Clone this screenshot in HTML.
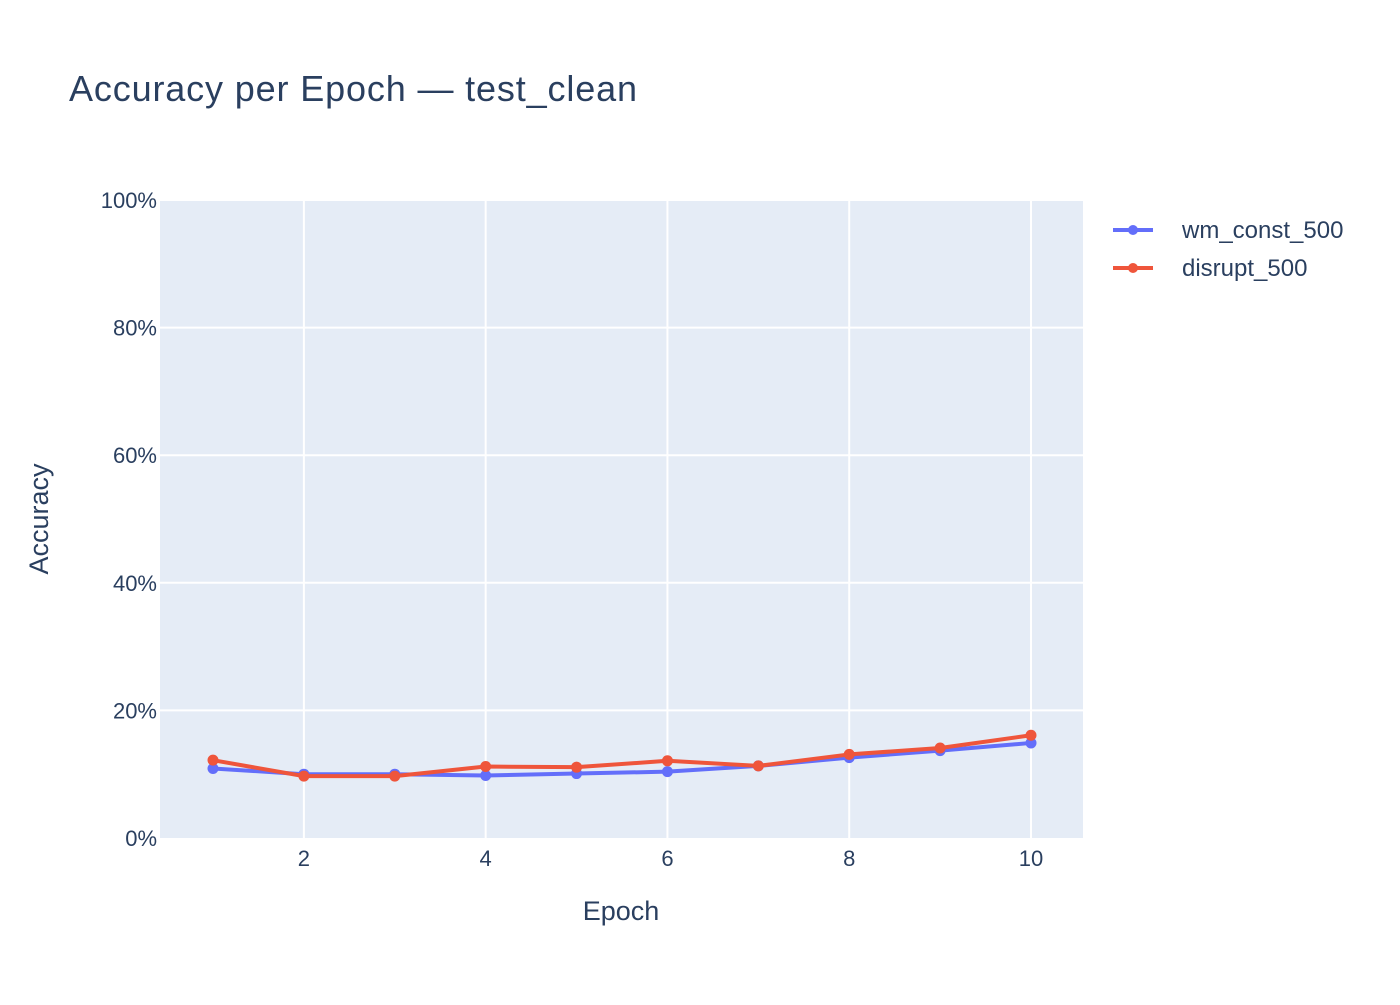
<!DOCTYPE html>
<html><head><meta charset="utf-8"><style>
body{margin:0;background:#fff;font-family:"Liberation Sans",Arial,sans-serif;}
svg text{font-family:"Liberation Sans",Arial,sans-serif;fill:#2a3f5f;}
</style></head><body>
<svg id="chart" width="1400" height="1000">
<text x="69" y="101" font-size="36" textLength="568">Accuracy per Epoch — test_clean</text>
<rect x="160" y="200" width="923" height="638" fill="#e5ecf6"/>
<g id="grid"></g>
<g id="series"></g>
<text x="621" y="920" font-size="27" text-anchor="middle">Epoch</text>
<text transform="translate(48,519) rotate(-90)" font-size="27" text-anchor="middle">Accuracy</text>
<g>
<line x1="1113" y1="230" x2="1153" y2="230" stroke="#636efa" stroke-width="4"/>
<circle cx="1133" cy="230" r="5" fill="#636efa"/>
<text x="1182" y="238" font-size="24">wm_const_500</text>
<line x1="1113" y1="268" x2="1153" y2="268" stroke="#ef553b" stroke-width="4"/>
<circle cx="1133" cy="268" r="5" fill="#ef553b"/>
<text x="1182" y="276" font-size="24">disrupt_500</text>
</g>
</svg>
<script>
const epochs=[1,2,3,4,5,6,7,8,9,10];
const wmConst=[10.9,10.0,10.0,9.8,10.1,10.4,11.3,12.6,13.7,14.9];
const disrupt=[12.2,9.7,9.7,11.2,11.1,12.1,11.3,13.1,14.1,16.1];
const xTicks=[2,4,6,8,10];
const yTicks=[0,20,40,60,80,100];
const NS="http://www.w3.org/2000/svg";
function X(v){return 213+(v-1)*(1031-213)/9;}
function Y(v){return 838-v*6.38;}
function mk(t,a,p){const e=document.createElementNS(NS,t);for(const k in a)e.setAttribute(k,a[k]);p.appendChild(e);return e;}
const g=document.getElementById('grid');
xTicks.forEach(t=>{
 const l=mk('line',{x1:X(t),x2:X(t),y1:200,y2:838,stroke:'#fff','stroke-width':2},g);
 
 
 const tx=mk('text',{x:X(t),y:866,'font-size':22,'text-anchor':'middle'},g);tx.textContent=t;
 
 
});
yTicks.forEach(t=>{
 if(t>0){const l=mk('line',{x1:160,x2:1083,y1:Y(t),y2:Y(t),stroke:'#fff','stroke-width':2},g);
 
 }
 const tx=mk('text',{x:157,y:Y(t)+8,'font-size':22,'text-anchor':'end'},g);tx.textContent=t+'%';
 
 
});
const s=document.getElementById('series');
[[wmConst,'#636efa','wm-const-500'],[disrupt,'#ef553b','disrupt-500']].forEach(([d,c,n])=>{
 const pl=mk('polyline',{points:d.map((v,i)=>X(epochs[i])+','+Y(v)).join(' '),fill:'none',stroke:c,'stroke-width':4,'stroke-linejoin':'round'},s);
 
 
 d.forEach((v,i)=>{const p=mk('circle',{cx:X(epochs[i]),cy:Y(v),r:5.5,fill:c},s);
 
 });
});
</script>
</body></html>
